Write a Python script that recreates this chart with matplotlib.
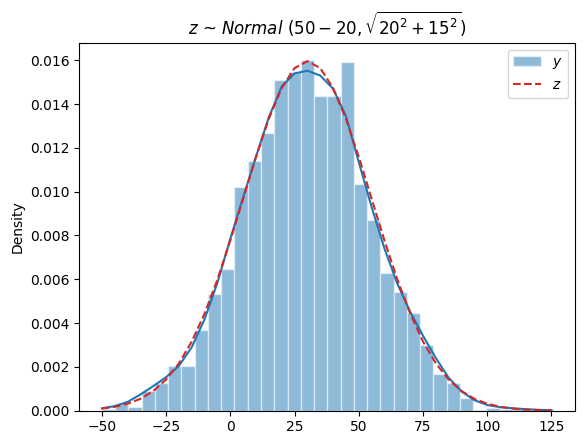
import numpy as np
import matplotlib
matplotlib.use("Agg")
import matplotlib.pyplot as plt

# histogram (density): 34 bins from -50 to 125.5
bin_edges = np.linspace(-50, 125.5, 35)
bin_heights = [0.00010, 0.00030, 0.00015, 0.00091, 0.00125, 0.00204, 0.00204,
               0.00368, 0.00532, 0.00646, 0.01019, 0.01138, 0.01270, 0.01512,
               0.01545, 0.01600, 0.01436, 0.01436, 0.01591, 0.01037, 0.00870,
               0.00627, 0.00542, 0.00444, 0.00300, 0.00168, 0.00125, 0.00057,
               0.00003, 0.00013, 0.00010, 0.00008, 0.00005, 0.00006]

# curves sampled every 5 units
curve_x = list(range(-50, 130, 5))
kde_y = [0.00011, 0.00021, 0.00040, 0.00074, 0.00112, 0.00153, 0.00205, 0.00290,
         0.00418, 0.00585, 0.00785, 0.00975, 0.01160, 0.01340, 0.01480, 0.01540,
         0.01552, 0.01530, 0.01470, 0.01345, 0.01135, 0.00930, 0.00740, 0.00580,
         0.00452, 0.00342, 0.00240, 0.00150, 0.00088, 0.00048, 0.00026, 0.00016,
         0.00011, 0.00007, 0.00004, 0.00002]
norm_y = [0.000095, 0.000177, 0.000317, 0.000543, 0.000896, 0.001419, 0.002160,
          0.003158, 0.004437, 0.005989, 0.007768, 0.009679, 0.011588, 0.013330,
          0.014731, 0.015642, 0.015958, 0.015642, 0.014731, 0.013330, 0.011588,
          0.009679, 0.007768, 0.005989, 0.004437, 0.003158, 0.002160, 0.001419,
          0.000896, 0.000543, 0.000317, 0.000177, 0.000095, 0.000049, 0.000024,
          0.000011]

fig = plt.figure(figsize=(5.84, 4.45), dpi=100)
fig.subplots_adjust(left=0.1358, right=0.9851, top=0.904, bottom=0.0771)
ax = fig.add_subplot(111)

ax.hist(bin_edges[:-1], bins=bin_edges, weights=bin_heights,
        color='C0', alpha=0.5, edgecolor='white', label='$y$')
ax.plot(curve_x, kde_y, color='C0')
ax.plot(curve_x, norm_y, color='C3', linestyle='--', label='$z$')

ax.set_ylabel('Density')
ax.set_title(r'$z$ ~ $Normal\ (50-20, \sqrt{20^2+15^2})$')
ax.legend(loc='upper right')

fig.savefig('out.png', dpi=100)
